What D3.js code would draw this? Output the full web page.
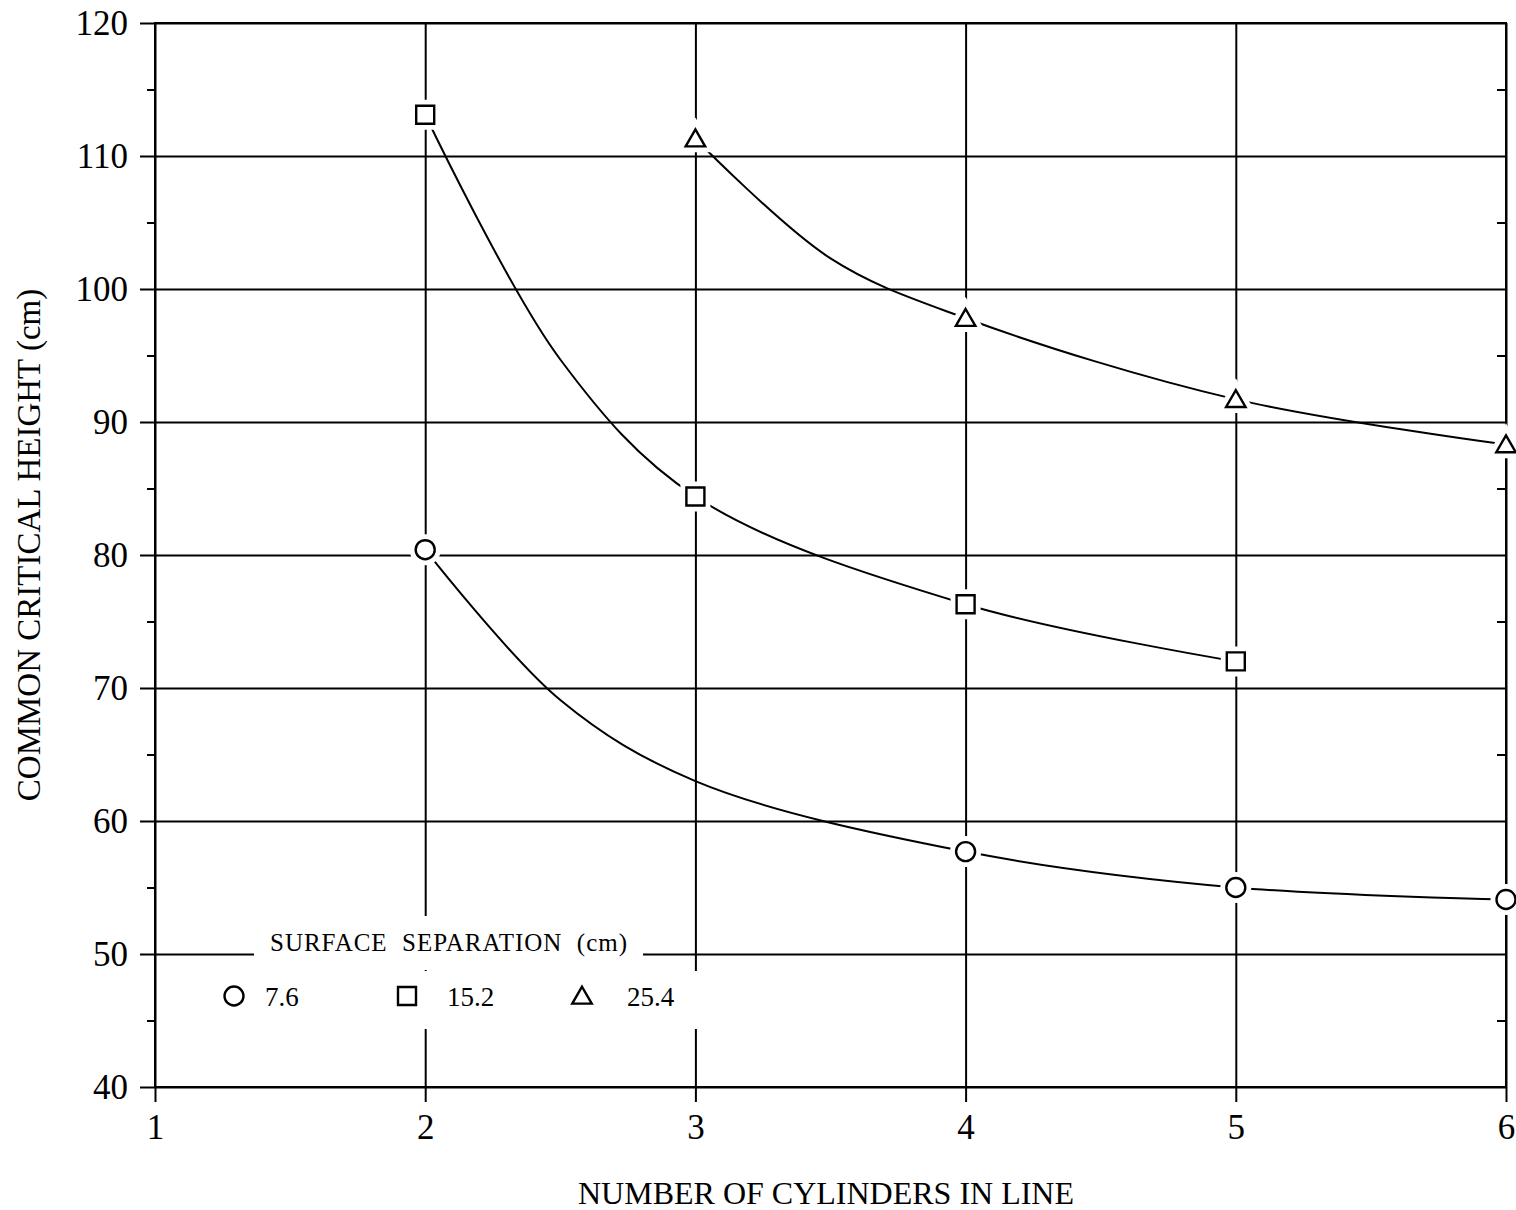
<!DOCTYPE html>
<html>
<head>
<meta charset="utf-8">
<script src="https://cdn.jsdelivr.net/npm/d3@7"></script>
<style>
  body { margin: 0; background: #fff; }
  svg { display: block; }
  text { font-family: "Liberation Serif", "DejaVu Serif", serif; fill: #000; }
</style>
</head>
<body>
<svg id="chart" width="1516" height="1210"></svg>
<script>
// ---- data ----
const xTicks = [1, 2, 3, 4, 5, 6];
const yTicks = [40, 50, 60, 70, 80, 90, 100, 110, 120];
const yMinorTicks = [45, 55, 65, 75, 85, 95, 105, 115];
const seriesNames = ["7.6", "15.2", "25.4"];
const seriesShapes = ["circle", "square", "triangle"];

// measured points (markers)
const circleX = [2, 4, 5, 6];
const circleY = [80.4, 57.7, 55.0, 54.1];
const squareX = [2, 3, 4, 5];
const squareY = [113.1, 84.4, 76.3, 72.0];
const triangleX = [3, 4, 5, 6];
const triangleY = [111.3, 97.8, 91.7, 88.3];

// fitted curves
const circleCurveX = [2, 2.5, 3, 4, 5, 6];
const circleCurveY = [80.4, 69.1, 63.0, 57.7, 55.0, 54.1];
const squareCurveX = [2, 2.5, 3, 4, 5];
const squareCurveY = [113.1, 94.7, 84.4, 76.3, 72.0];
const triangleCurveX = [3, 3.5, 4, 5, 6];
const triangleCurveY = [111.3, 102.3, 97.8, 91.7, 88.3];

const xTitle = "NUMBER OF CYLINDERS IN LINE";
const yTitle = "COMMON CRITICAL HEIGHT (cm)";
const legendTitle = "SURFACE  SEPARATION  (cm)";

// ---- layout ----
const svg = d3.select("#chart");
const L = 155, R = 1506, T = 23, B = 1087;
const x = d3.scaleLinear().domain([1, 6]).range([L, R]);
const y = d3.scaleLinear().domain([40, 120]).range([B, T]);
const SW = 2;

function styleAxis(g) {
  g.selectAll("path.domain").remove();
  g.selectAll("line").attr("stroke", "#000").attr("stroke-width", SW);
}

// horizontal grid (extends outward as major ticks on the left)
svg.append("g").attr("transform", `translate(${R},0)`)
  .call(d3.axisLeft(y).tickValues(yTicks).tickSize(R - L + 15).tickFormat(""))
  .call(styleAxis);

// vertical grid (extends outward as ticks on the bottom)
svg.append("g").attr("transform", `translate(0,${T})`)
  .call(d3.axisBottom(x).tickValues(xTicks).tickSize(B - T + 15).tickFormat(""))
  .call(styleAxis);

// y labels
const yLab = svg.append("g").attr("transform", `translate(${L},0)`)
  .call(d3.axisLeft(y).tickValues(yTicks).tickSize(0).tickPadding(27).tickFormat(d3.format("d")));
yLab.selectAll("path.domain").remove();
yLab.selectAll("text").attr("font-size", 35).attr("dy", "0.33em")
  .style("font-family", '"Liberation Serif", serif').attr("fill", "#000");

// x labels
const xLab = svg.append("g").attr("transform", `translate(0,${B})`)
  .call(d3.axisBottom(x).tickValues(xTicks).tickSize(0).tickPadding(27).tickFormat(d3.format("d")));
xLab.selectAll("path.domain").remove();
xLab.selectAll("text").attr("font-size", 35).attr("dy", "0.71em")
  .style("font-family", '"Liberation Serif", serif').attr("fill", "#000");

// minor ticks: left outward, right inward
svg.append("g").attr("transform", `translate(${L},0)`)
  .call(d3.axisLeft(y).tickValues(yMinorTicks).tickSize(8).tickFormat(""))
  .call(styleAxis);
svg.append("g").attr("transform", `translate(${R},0)`)
  .call(d3.axisLeft(y).tickValues(yMinorTicks).tickSize(9).tickFormat(""))
  .call(styleAxis);

// frame
svg.append("rect").attr("x", L).attr("y", T).attr("width", R - L).attr("height", B - T)
  .attr("fill", "none").attr("stroke", "#000").attr("stroke-width", SW);

// legend background (grid is interrupted)
svg.append("rect").attr("x", 254).attr("y", 916).attr("width", 643 - 254).attr("height", 54).attr("fill", "#fff");
svg.append("rect").attr("x", 212).attr("y", 971).attr("width", 700 - 212).attr("height", 58).attr("fill", "#fff");

// curves
const line = d3.line().x(d => x(d[0])).y(d => y(d[1])).curve(d3.curveCatmullRom.alpha(0.5));
const curves = [
  d3.zip(circleCurveX, circleCurveY),
  d3.zip(squareCurveX, squareCurveY),
  d3.zip(triangleCurveX, triangleCurveY)
];
svg.append("g").selectAll("path").data(curves).join("path")
  .attr("d", line).attr("fill", "none").attr("stroke", "#000").attr("stroke-width", SW);

// markers
const symbolFor = {
  circle: d3.symbol(d3.symbolCircle, Math.PI * 9.5 * 9.5),
  square: d3.symbol(d3.symbolSquare, 18 * 18),
  triangle: d3.symbol(d3.symbolTriangle, Math.sqrt(3) / 4 * 19.5 * 19.5)
};
const pointSets = [
  d3.zip(circleX, circleY),
  d3.zip(squareX, squareY),
  d3.zip(triangleX, triangleY)
];
function drawMarker(g, shape, px, py) {
  const dy = shape === "triangle" ? 2 : 0;
  g.append("path").attr("d", symbolFor[shape]()).attr("transform", `translate(${px},${py + dy})`)
    .attr("fill", "#fff").attr("stroke", "#fff").attr("stroke-width", 12);
  g.append("path").attr("d", symbolFor[shape]()).attr("transform", `translate(${px},${py + dy})`)
    .attr("fill", "#fff").attr("stroke", "#000").attr("stroke-width", 2.4);
}
const mg = svg.append("g");
pointSets.forEach((pts, i) => {
  pts.forEach(p => drawMarker(mg, seriesShapes[i], x(p[0]), y(p[1])));
});

// legend
svg.append("text").attr("x", 270).attr("y", 951).attr("font-size", 25)
  .style("white-space", "pre").attr("textLength", 357).text(legendTitle);
const legendX = [234, 407, 582];
const legendLabelX = [265, 447, 627];
seriesNames.forEach((name, i) => {
  drawMarker(svg, seriesShapes[i], legendX[i], 996);
  svg.append("text").attr("x", legendLabelX[i]).attr("y", 1006).attr("font-size", 27).text(name);
});

// axis titles
svg.append("text").attr("x", 826).attr("y", 1204).attr("text-anchor", "middle")
  .attr("font-size", 32).text(xTitle);
svg.append("text").attr("transform", "translate(40,545) rotate(-90)").attr("text-anchor", "middle")
  .attr("font-size", 33).text(yTitle);
</script>
</body>
</html>
